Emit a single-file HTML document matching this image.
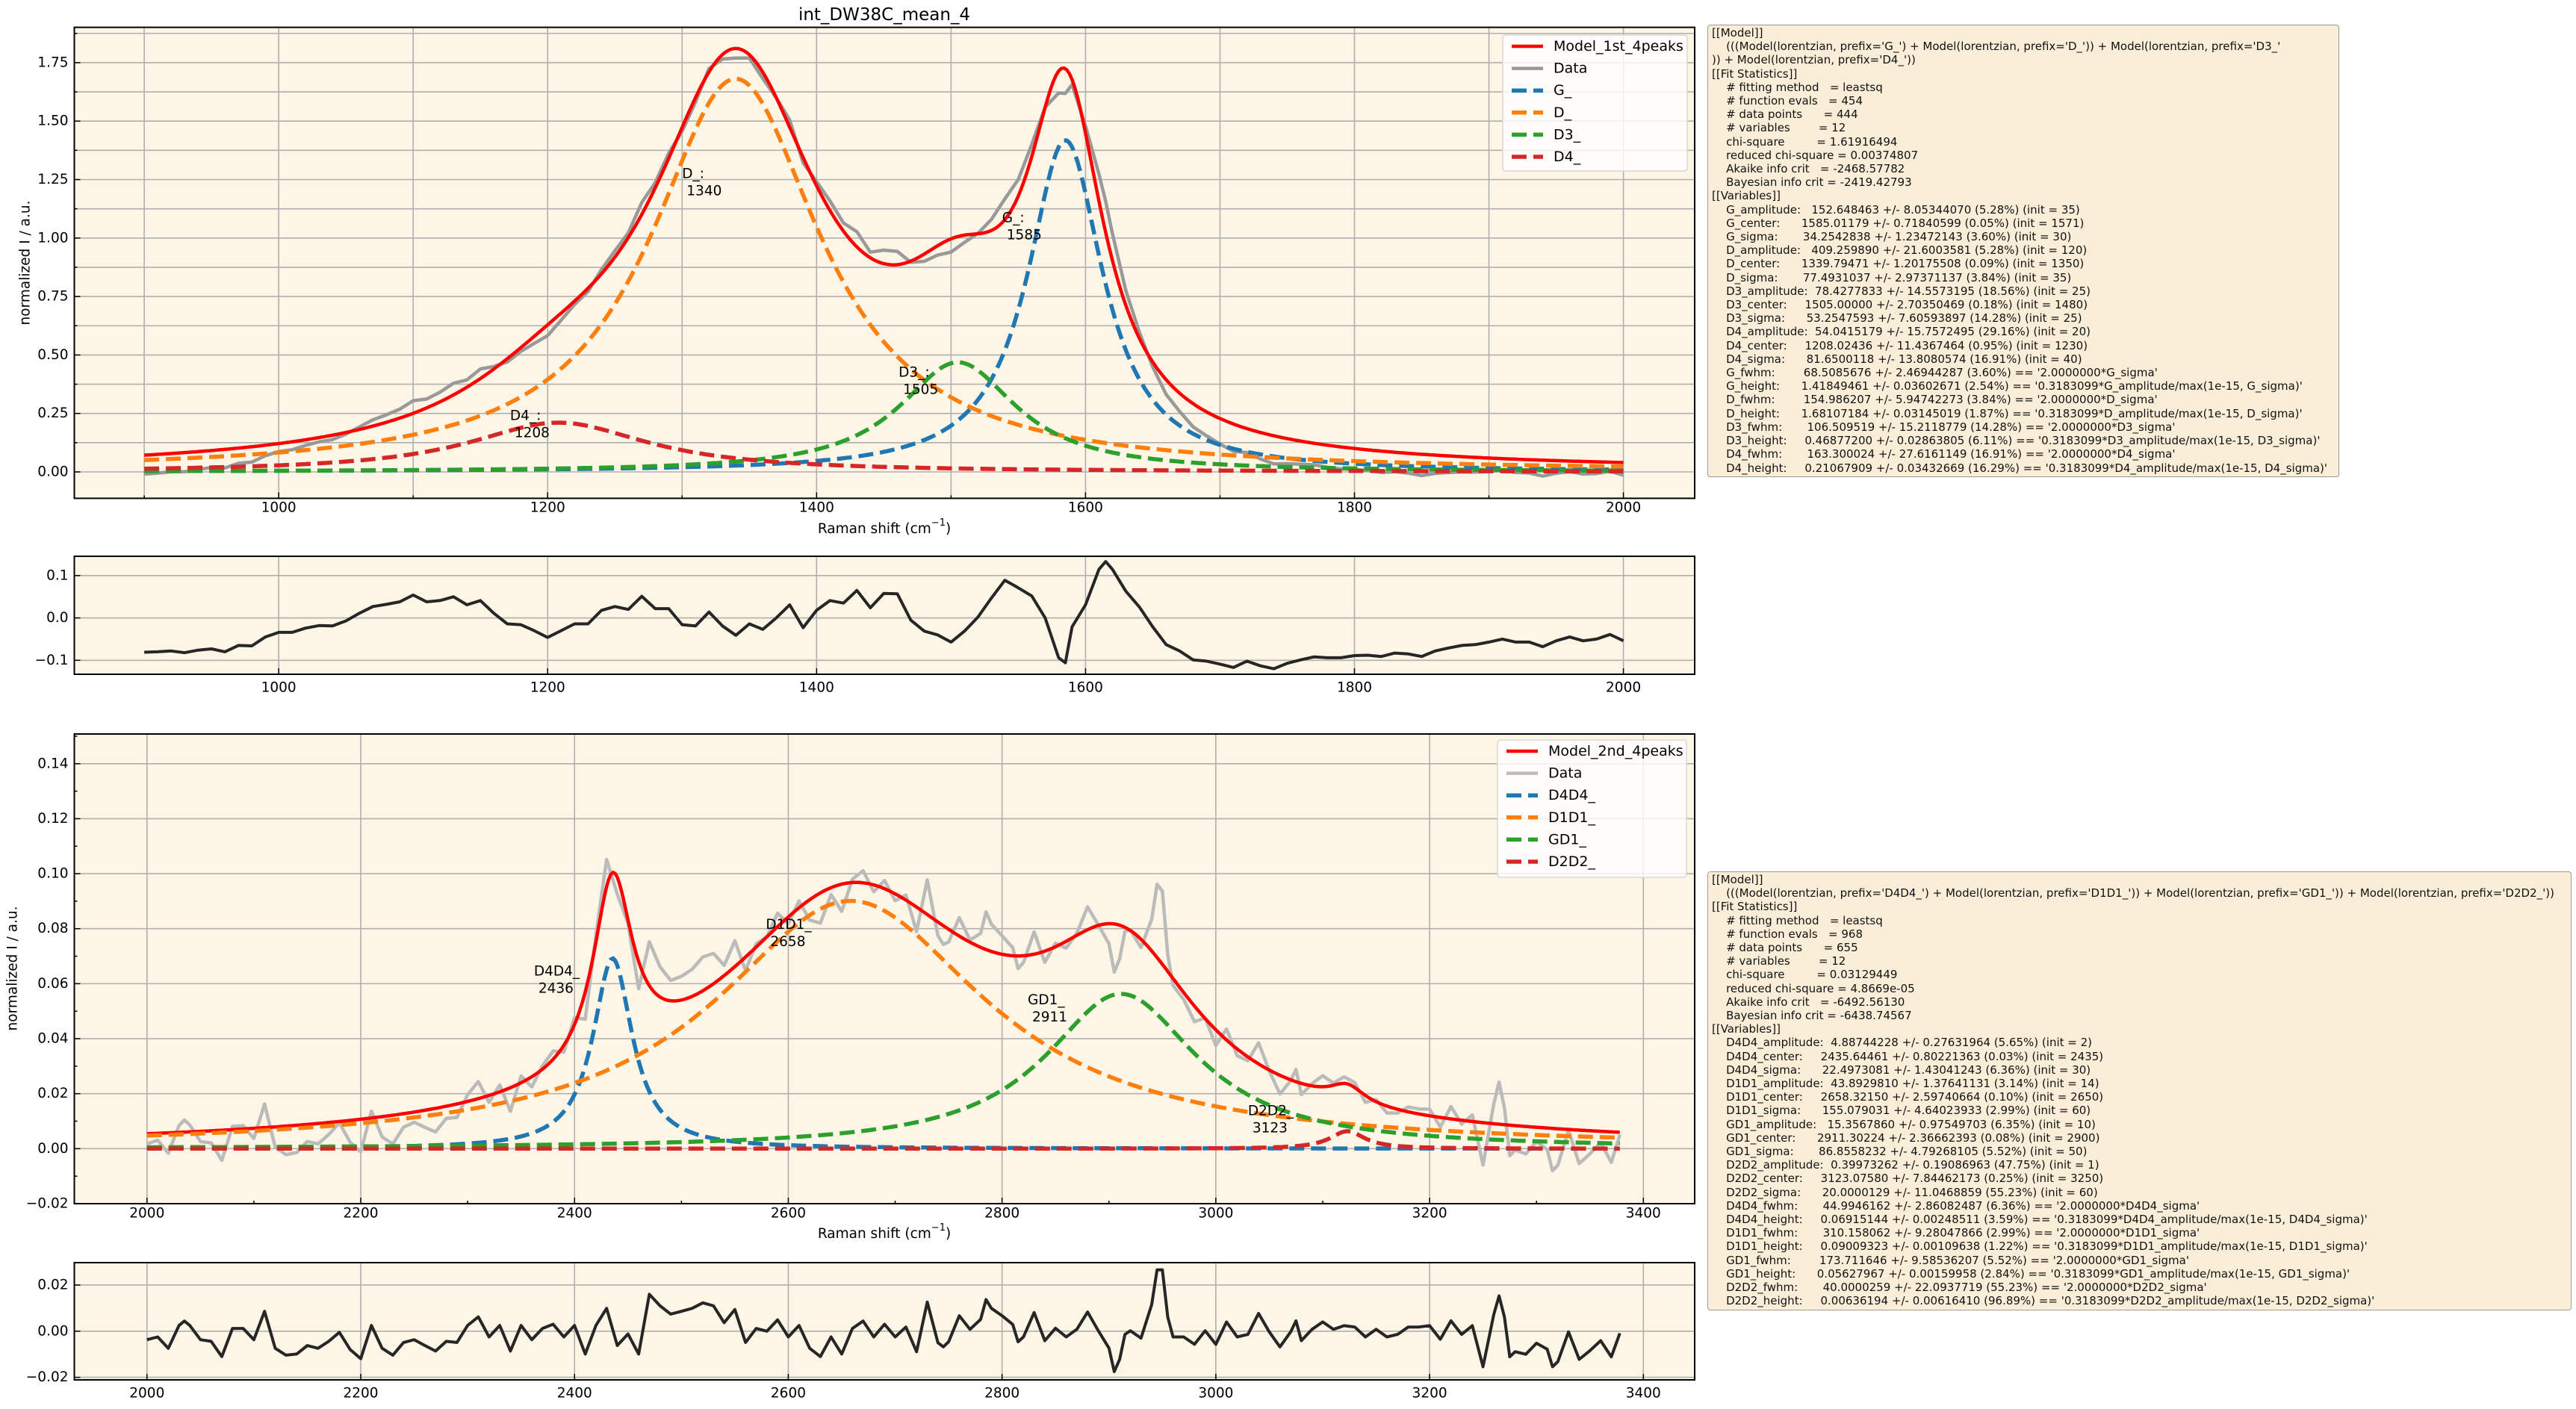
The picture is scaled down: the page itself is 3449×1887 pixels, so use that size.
<!DOCTYPE html>
<html><head><meta charset="utf-8">
<style>
html,body{margin:0;padding:0;background:#fff;}
body{width:3449px;height:1887px;position:relative;overflow:hidden;font-family:"DejaVu Sans","Liberation Sans",sans-serif;}
.box{position:absolute;background:#faeed9;border:1.5px solid #9a9a9a;border-radius:4px;box-sizing:border-box;}
.box pre{margin:0;padding:1px 5px;font-family:"DejaVu Sans","Liberation Sans",sans-serif;font-size:15px;line-height:18.2px;color:#111;white-space:pre;}
</style></head>
<body>
<svg id="chart" width="3449" height="1887" xmlns="http://www.w3.org/2000/svg" style="position:absolute;left:0;top:0;font-family:'DejaVu Sans','Liberation Sans',sans-serif;"></svg>

<div class="box" style="left:2286px;top:33px;width:846px;height:606px;"><pre>[[Model]]
    (((Model(lorentzian, prefix='G_') + Model(lorentzian, prefix='D_')) + Model(lorentzian, prefix='D3_'
)) + Model(lorentzian, prefix='D4_'))
[[Fit Statistics]]
    # fitting method   = leastsq
    # function evals   = 454
    # data points      = 444
    # variables        = 12
    chi-square         = 1.61916494
    reduced chi-square = 0.00374807
    Akaike info crit   = -2468.57782
    Bayesian info crit = -2419.42793
[[Variables]]
    G_amplitude:   152.648463 +/- 8.05344070 (5.28%) (init = 35)
    G_center:      1585.01179 +/- 0.71840599 (0.05%) (init = 1571)
    G_sigma:       34.2542838 +/- 1.23472143 (3.60%) (init = 30)
    D_amplitude:   409.259890 +/- 21.6003581 (5.28%) (init = 120)
    D_center:      1339.79471 +/- 1.20175508 (0.09%) (init = 1350)
    D_sigma:       77.4931037 +/- 2.97371137 (3.84%) (init = 35)
    D3_amplitude:  78.4277833 +/- 14.5573195 (18.56%) (init = 25)
    D3_center:     1505.00000 +/- 2.70350469 (0.18%) (init = 1480)
    D3_sigma:      53.2547593 +/- 7.60593897 (14.28%) (init = 25)
    D4_amplitude:  54.0415179 +/- 15.7572495 (29.16%) (init = 20)
    D4_center:     1208.02436 +/- 11.4367464 (0.95%) (init = 1230)
    D4_sigma:      81.6500118 +/- 13.8080574 (16.91%) (init = 40)
    G_fwhm:        68.5085676 +/- 2.46944287 (3.60%) == '2.0000000*G_sigma'
    G_height:      1.41849461 +/- 0.03602671 (2.54%) == '0.3183099*G_amplitude/max(1e-15, G_sigma)'
    D_fwhm:        154.986207 +/- 5.94742273 (3.84%) == '2.0000000*D_sigma'
    D_height:      1.68107184 +/- 0.03145019 (1.87%) == '0.3183099*D_amplitude/max(1e-15, D_sigma)'
    D3_fwhm:       106.509519 +/- 15.2118779 (14.28%) == '2.0000000*D3_sigma'
    D3_height:     0.46877200 +/- 0.02863805 (6.11%) == '0.3183099*D3_amplitude/max(1e-15, D3_sigma)'
    D4_fwhm:       163.300024 +/- 27.6161149 (16.91%) == '2.0000000*D4_sigma'
    D4_height:     0.21067909 +/- 0.03432669 (16.29%) == '0.3183099*D4_amplitude/max(1e-15, D4_sigma)'</pre></div>

<div class="box" style="left:2286px;top:1167px;width:1157px;height:588px;"><pre>[[Model]]
    (((Model(lorentzian, prefix='D4D4_') + Model(lorentzian, prefix='D1D1_')) + Model(lorentzian, prefix='GD1_')) + Model(lorentzian, prefix='D2D2_'))
[[Fit Statistics]]
    # fitting method   = leastsq
    # function evals   = 968
    # data points      = 655
    # variables        = 12
    chi-square         = 0.03129449
    reduced chi-square = 4.8669e-05
    Akaike info crit   = -6492.56130
    Bayesian info crit = -6438.74567
[[Variables]]
    D4D4_amplitude:  4.88744228 +/- 0.27631964 (5.65%) (init = 2)
    D4D4_center:     2435.64461 +/- 0.80221363 (0.03%) (init = 2435)
    D4D4_sigma:      22.4973081 +/- 1.43041243 (6.36%) (init = 30)
    D1D1_amplitude:  43.8929810 +/- 1.37641131 (3.14%) (init = 14)
    D1D1_center:     2658.32150 +/- 2.59740664 (0.10%) (init = 2650)
    D1D1_sigma:      155.079031 +/- 4.64023933 (2.99%) (init = 60)
    GD1_amplitude:   15.3567860 +/- 0.97549703 (6.35%) (init = 10)
    GD1_center:      2911.30224 +/- 2.36662393 (0.08%) (init = 2900)
    GD1_sigma:       86.8558232 +/- 4.79268105 (5.52%) (init = 50)
    D2D2_amplitude:  0.39973262 +/- 0.19086963 (47.75%) (init = 1)
    D2D2_center:     3123.07580 +/- 7.84462173 (0.25%) (init = 3250)
    D2D2_sigma:      20.0000129 +/- 11.0468859 (55.23%) (init = 60)
    D4D4_fwhm:       44.9946162 +/- 2.86082487 (6.36%) == '2.0000000*D4D4_sigma'
    D4D4_height:     0.06915144 +/- 0.00248511 (3.59%) == '0.3183099*D4D4_amplitude/max(1e-15, D4D4_sigma)'
    D1D1_fwhm:       310.158062 +/- 9.28047866 (2.99%) == '2.0000000*D1D1_sigma'
    D1D1_height:     0.09009323 +/- 0.00109638 (1.22%) == '0.3183099*D1D1_amplitude/max(1e-15, D1D1_sigma)'
    GD1_fwhm:        173.711646 +/- 9.58536207 (5.52%) == '2.0000000*GD1_sigma'
    GD1_height:      0.05627967 +/- 0.00159958 (2.84%) == '0.3183099*GD1_amplitude/max(1e-15, GD1_sigma)'
    D2D2_fwhm:       40.0000259 +/- 22.0937719 (55.23%) == '2.0000000*D2D2_sigma'
    D2D2_height:     0.00636194 +/- 0.00616410 (96.89%) == '0.3183099*D2D2_amplitude/max(1e-15, D2D2_sigma)'</pre></div>

<script>
// ---------- data: 1st order fit ----------
const p1Names = ['G_', 'D_', 'D3_', 'D4_'];
const p1Amps = [152.648463, 409.259890, 78.4277833, 54.0415179];
const p1Centers = [1585.01179, 1339.79471, 1505.0, 1208.02436];
const p1Sigmas = [34.2542838, 77.4931037, 53.2547593, 81.6500118];
const p1LabelX = [1538, 1300, 1461, 1172];
const p1LabelY = [1.085, 1.274, 0.425, 0.239];
const p1LabelVal = ['1585', '1340', '1505', '1208'];
const res1X = [900,910,920,930,940,950,960,970,980,990,1000,1010,1020,1030,1040,1050,1060,1070,1080,1090,1100,1110,1120,1130,1140,1150,1160,1170,1180,1190,1200,1210,1220,1230,1240,1250,1260,1270,1280,1290,1300,1310,1320,1330,1340,1350,1360,1370,1380,1390,1400,1410,1420,1430,1440,1450,1460,1470,1480,1490,1500,1510,1520,1530,1540,1550,1560,1570,1580,1585,1590,1600,1610,1615,1620,1630,1640,1650,1660,1670,1680,1690,1700,1710,1720,1730,1740,1750,1760,1770,1780,1790,1800,1810,1820,1830,1840,1850,1860,1870,1880,1890,1900,1910,1920,1930,1940,1950,1960,1970,1980,1990,2000];
const res1Y = [-0.081,-0.080,-0.078,-0.082,-0.076,-0.073,-0.080,-0.065,-0.066,-0.045,-0.034,-0.034,-0.024,-0.018,-0.019,-0.007,0.011,0.027,0.032,0.038,0.054,0.038,0.041,0.050,0.031,0.041,0.011,-0.014,-0.016,-0.030,-0.046,-0.030,-0.014,-0.014,0.018,0.027,0.020,0.051,0.022,0.022,-0.016,-0.019,0.014,-0.019,-0.041,-0.014,-0.027,0.0,0.031,-0.023,0.018,0.041,0.035,0.065,0.024,0.058,0.057,-0.005,-0.031,-0.040,-0.057,-0.031,0.002,0.047,0.089,0.071,0.052,0.0,-0.094,-0.106,-0.021,0.031,0.115,0.133,0.115,0.063,0.026,-0.021,-0.063,-0.078,-0.099,-0.102,-0.109,-0.117,-0.102,-0.113,-0.120,-0.107,-0.099,-0.092,-0.094,-0.094,-0.089,-0.088,-0.091,-0.083,-0.085,-0.091,-0.078,-0.071,-0.065,-0.063,-0.057,-0.050,-0.057,-0.057,-0.068,-0.054,-0.045,-0.054,-0.050,-0.039,-0.054];
const p1XTicks = [1000, 1200, 1400, 1600, 1800, 2000];
const p1YTicks = [0, 0.25, 0.5, 0.75, 1.0, 1.25, 1.5, 1.75];
const r1YTicks = [-0.1, 0.0, 0.1];

// ---------- data: 2nd order fit ----------
const p2Names = ['D4D4_', 'D1D1_', 'GD1_', 'D2D2_'];
const p2Amps = [4.88744228, 43.8929810, 15.3567860, 0.39973262];
const p2Centers = [2435.64461, 2658.32150, 2911.30224, 3123.07580];
const p2Sigmas = [22.4973081, 155.079031, 86.8558232, 20.0000129];
const p2LabelX = [2362, 2579, 2824, 3030];
const p2LabelY = [0.0644, 0.0814, 0.054, 0.0137];
const p2LabelVal = ['2436', '2658', '2911', '3123'];
const res2X = [2000,2010,2020,2030,2035,2040,2050,2060,2070,2080,2090,2100,2110,2120,2130,2140,2150,2160,2170,2180,2190,2200,2210,2220,2230,2240,2250,2260,2270,2280,2290,2300,2310,2320,2330,2340,2350,2360,2370,2380,2390,2400,2410,2420,2430,2440,2450,2460,2470,2480,2490,2500,2510,2520,2530,2540,2550,2560,2570,2580,2590,2600,2610,2620,2630,2640,2650,2660,2670,2680,2690,2700,2710,2720,2730,2740,2745,2750,2760,2770,2780,2785,2790,2800,2810,2815,2820,2830,2840,2850,2860,2870,2880,2890,2900,2905,2910,2915,2920,2930,2940,2945,2950,2955,2960,2970,2980,2990,3000,3010,3020,3030,3040,3050,3060,3070,3075,3080,3090,3100,3110,3120,3130,3140,3150,3160,3170,3180,3190,3200,3210,3220,3230,3240,3250,3260,3265,3270,3275,3280,3290,3300,3310,3315,3320,3330,3340,3350,3360,3370,3378];
const res2Y = [-0.0037,-0.0025,-0.0074,0.0025,0.0044,0.0025,-0.0037,-0.0044,-0.011,0.0012,0.0012,-0.0037,0.0086,-0.0074,-0.0104,-0.0099,-0.0062,-0.0074,-0.0044,-0.0005,-0.0079,-0.0119,0.0025,-0.0074,-0.0104,-0.0049,-0.0037,-0.0062,-0.0086,-0.0044,-0.0049,0.0025,0.0062,-0.0025,0.0025,-0.0086,0.0025,-0.0037,0.0012,0.003,-0.0025,0.0025,-0.0099,0.0025,0.0099,-0.0062,-0.0012,-0.0099,0.016,0.011,0.0074,0.0086,0.0099,0.0123,0.011,0.0037,0.0094,-0.0049,0.0012,0.0,0.0049,-0.0025,0.0025,-0.0074,-0.011,-0.0025,-0.0099,0.0012,0.0044,-0.0025,0.0030,-0.0025,0.0018,-0.0089,0.0126,-0.005,-0.0068,-0.0046,0.0067,0.0008,0.0051,0.0137,0.0099,0.0067,0.0029,-0.0046,-0.0025,0.0081,-0.0041,0.0013,-0.0025,0.0008,0.0083,0.0002,-0.0073,-0.0175,-0.0122,-0.0014,0.0002,-0.003,0.0115,0.0266,0.0266,0.0061,-0.0025,-0.0025,-0.0057,0.0002,-0.0057,0.004,-0.0025,-0.0014,0.0077,-0.0003,-0.0068,-0.0003,0.0045,-0.0041,0.0008,0.004,0.0008,0.0024,0.0018,-0.0025,0.0008,-0.0025,-0.0014,0.0018,0.0018,0.0024,-0.0035,0.0045,-0.0014,0.0024,-0.0154,0.0072,0.0153,0.0061,-0.0111,-0.0089,-0.01,-0.0052,-0.0078,-0.0154,-0.0132,-0.0003,-0.0122,-0.0084,-0.0041,-0.0111,-0.0009];
const p2XTicks = [2000, 2200, 2400, 2600, 2800, 3000, 3200, 3400];
const p2YTicks = [-0.02, 0, 0.02, 0.04, 0.06, 0.08, 0.10, 0.12, 0.14];
const r2YTicks = [-0.02, 0.0, 0.02];

const compColors = ['#1f77b4', '#ff7f0e', '#2ca02c', '#d62728'];
const NS = 'http://www.w3.org/2000/svg';
const svg = document.getElementById('chart');

function mk(tag, attrs, parent) {
  const e = document.createElementNS(NS, tag);
  for (const k in attrs) e.setAttribute(k, attrs[k]);
  (parent || svg).appendChild(e);
  return e;
}
function lor(x, a, c, s) { return a / Math.PI * s / ((x - c) * (x - c) + s * s); }
function fmtMinus(s) { return s.replace('-', '\u2212'); }

function makeAxis(L, R, T, B, x0, x1, y0, y1) {
  return {L, R, T, B,
    sx: v => L + (v - x0) / (x1 - x0) * (R - L),
    sy: v => B - (v - y0) / (y1 - y0) * (B - T)};
}

function drawFrame(ax, name, xGrid, yGrid, xTicks, yTicks, xFmt, yFmt, xLabY, xMinor, yMinor) {
  const g = mk('g', {});
  
  
  mk('rect', {x: ax.L, y: ax.T, width: ax.R - ax.L, height: ax.B - ax.T, fill: '#fdf5e6'}, g);
  const grid = mk('g', {stroke: '#b0b0b0', 'stroke-width': 1.6}, g);
  
  
  xGrid.forEach(v => { const x = ax.sx(v); mk('line', {x1: x, x2: x, y1: ax.T, y2: ax.B}, grid); });
  yGrid.forEach(v => { const y = ax.sy(v); mk('line', {x1: ax.L, x2: ax.R, y1: y, y2: y}, grid); });
  const tk = mk('g', {stroke: '#000', 'stroke-width': 1.5}, g);
  xTicks.forEach(v => { const x = ax.sx(v); mk('line', {x1: x, x2: x, y1: ax.B, y2: ax.B - 8}, tk); });
  yTicks.forEach(v => { const y = ax.sy(v); mk('line', {x1: ax.L, x2: ax.L + 8, y1: y, y2: y}, tk); });
  (xMinor || []).forEach(v => { const x = ax.sx(v); mk('line', {x1: x, x2: x, y1: ax.B, y2: ax.B - 4}, tk); });
  (yMinor || []).forEach(v => { const y = ax.sy(v); mk('line', {x1: ax.L, x2: ax.L + 4, y1: y, y2: y}, tk); });
  const xl = mk('g', {'font-size': '18.5px', fill: '#000', 'text-anchor': 'middle'}, g);
  
  
  xTicks.forEach(v => { const t = mk('text', {x: ax.sx(v), y: xLabY, 'dominant-baseline': 'central'}, xl); t.textContent = xFmt(v); });
  const yl = mk('g', {'font-size': '18.5px', fill: '#000', 'text-anchor': 'end'}, g);
  
  
  yTicks.forEach(v => { const t = mk('text', {x: ax.L - 8, y: ax.sy(v), 'dominant-baseline': 'central'}, yl); t.textContent = fmtMinus(yFmt(v)); });
  return g;
}
function spines(ax) {
  mk('rect', {x: ax.L, y: ax.T, width: ax.R - ax.L, height: ax.B - ax.T, fill: 'none', stroke: '#000', 'stroke-width': 2});
}
function pathD(ax, xs, ys) {
  return xs.map((x, i) => (i ? 'L' : 'M') + ax.sx(x).toFixed(1) + ',' + ax.sy(ys[i]).toFixed(1)).join('');
}
function clipFor(ax, id) {
  const cp = mk('clipPath', {id: id});
  mk('rect', {x: ax.L, y: ax.T, width: ax.R - ax.L, height: ax.B - ax.T}, cp);
  return 'url(#' + id + ')';
}
function range(a, b, s) { const r = []; for (let v = a; v <= b + 1e-9; v += s) r.push(+v.toFixed(6)); return r; }

function drawFit(ax, name, names, amps, centers, sigmas, resX, resY, xStart, xEnd, dataColor, modelName, labX, labY, labVal, legendBox) {
  const clip = clipFor(ax, name + '-clip');
  const layer = mk('g', {'clip-path': clip});
  const xs = range(xStart, xEnd, 2);
  const model = xs.map(x => names.reduce((s, n, i) => s + lor(x, amps[i], centers[i], sigmas[i]), 0));
  const dataY = resX.map((x, k) => names.reduce((s, n, i) => s + lor(x, amps[i], centers[i], sigmas[i]), 0) + resY[k]);
  const dp = mk('path', {d: pathD(ax, resX, dataY), fill: 'none', stroke: dataColor, 'stroke-width': 4.5, 'stroke-linejoin': 'round'}, layer);
  
  
  const mp = mk('path', {d: pathD(ax, xs, model), fill: 'none', stroke: '#ff0000', 'stroke-width': 4.5}, layer);
  
  
  names.forEach((n, i) => {
    const ys = xs.map(x => lor(x, amps[i], centers[i], sigmas[i]));
    const p = mk('path', {d: pathD(ax, xs, ys), fill: 'none', stroke: compColors[i], 'stroke-width': 5.5, 'stroke-dasharray': '20 9'}, layer);
    
    
  });
  names.forEach((n, i) => {
    const g = mk('g', {'font-size': '18.5px', fill: '#000'});
    
    
    const x = ax.sx(labX[i]), y = ax.sy(labY[i]);
    const t1 = mk('text', {x: x, y: y, 'dominant-baseline': 'central'}, g);
    t1.textContent = n + (name === 'panel1' ? ':' : '');
    const t2 = mk('text', {x: x + 6, y: y + 23, 'dominant-baseline': 'central'}, g);
    t2.textContent = labVal[i];
  });
  // legend
  const lg = mk('g', {});
  
  
  mk('rect', {x: legendBox.x, y: legendBox.y, width: legendBox.w, height: legendBox.h, rx: 4, fill: '#ffffff', 'fill-opacity': 0.8, stroke: '#d8d8d8', 'stroke-width': 1.5}, lg);
  const entries = [[modelName, '#ff0000', false], ['Data', dataColor, false]].concat(names.map((n, i) => [n, compColors[i], true]));
  entries.forEach((e, k) => {
    const y = legendBox.y + 15 + k * 29.6;
    const eg = mk('g', {}, lg);
    
    
    mk('line', {x1: legendBox.x + 12, x2: legendBox.x + 54, y1: y, y2: y, stroke: e[1], 'stroke-width': e[2] ? 5.5 : 4.5, 'stroke-dasharray': e[2] ? '20 9' : 'none'}, eg);
    const t = mk('text', {x: legendBox.x + 68, y: y, 'font-size': '19px', 'dominant-baseline': 'central'}, eg);
    t.textContent = e[0];
  });
}
function drawResid(ax, name, xs, ys) {
  const clip = clipFor(ax, name + '-clip');
  const p = mk('path', {d: pathD(ax, xs, ys), fill: 'none', stroke: '#262626', 'stroke-width': 4, 'stroke-linejoin': 'round', 'clip-path': clip});
  
  
}
function textAt(x, y, str, size, name, rot) {
  const t = mk('text', {x: x, y: y, 'font-size': size, 'text-anchor': 'middle', 'dominant-baseline': 'central', fill: '#000'});
  if (rot) t.setAttribute('transform', 'rotate(-90 ' + x + ' ' + y + ')');
  t.textContent = str;
  
  
  return t;
}
function xLabel(x, y, name) {
  const t = mk('text', {x: x, y: y, 'font-size': '18.5px', 'text-anchor': 'middle', 'dominant-baseline': 'central', fill: '#000'});
  
  
  const a = mk('tspan', {}, t); a.textContent = 'Raman shift (cm';
  const b = mk('tspan', {'font-size': '13px', dy: -8}, t); b.textContent = '\u22121';
  const c = mk('tspan', {dy: 8}, t); c.textContent = ')';
}

// ---------- panel 1 ----------
const ax1 = makeAxis(99.5, 2269, 36.6, 667.4, 848, 2053, -0.113, 1.901);
drawFrame(ax1, 'panel1', range(900, 2000, 100), range(0, 1.875, 0.125), p1XTicks, p1YTicks, v => String(v), v => v.toFixed(2), 680, [900,1100,1300,1500,1700,1900], [0.125,0.375,0.625,0.875,1.125,1.375,1.625,1.875]);
drawFit(ax1, 'panel1', p1Names, p1Amps, p1Centers, p1Sigmas, res1X, res1Y, 900, 2000, '#999999', 'Model_1st_4peaks', p1LabelX, p1LabelY, p1LabelVal, {x: 2012, y: 47, w: 247, h: 182});
spines(ax1);
textAt(1184, 20, 'int_DW38C_mean_4', '23px', 'chart-title');
textAt(34, 352, 'normalized I / a.u.', '18.5px', 'panel1-y-axis-title', true);
xLabel(1184, 708, 'panel1-x-axis-title');

// ---------- residual 1 ----------
const axr1 = makeAxis(99.5, 2269, 745, 903, 848, 2053, -0.133, 0.1456);
drawFrame(axr1, 'residual1', [1000,1200,1400,1600,1800,2000], r1YTicks, p1XTicks, r1YTicks, v => String(v), v => v.toFixed(1), 921);
drawResid(axr1, 'residual1', res1X, res1Y);
spines(axr1);

// ---------- panel 2 ----------
const ax2 = makeAxis(99.5, 2269, 983, 1612, 1932, 3448, -0.02, 0.1508);
drawFrame(ax2, 'panel2', p2XTicks, p2YTicks, p2XTicks, p2YTicks, v => String(v), v => v.toFixed(2), 1625, range(2100, 3300, 200), range(-0.01, 0.15, 0.02));
drawFit(ax2, 'panel2', p2Names, p2Amps, p2Centers, p2Sigmas, res2X, res2Y, 2000, 3378, '#bbbbbb', 'Model_2nd_4peaks', p2LabelX, p2LabelY, p2LabelVal, {x: 2005, y: 991, w: 253, h: 184});
spines(ax2);
textAt(17, 1297, 'normalized I / a.u.', '18.5px', 'panel2-y-axis-title', true);
xLabel(1184, 1652, 'panel2-x-axis-title');

// ---------- residual 2 ----------
const axr2 = makeAxis(99.5, 2269, 1691, 1848, 1932, 3448, -0.0211, 0.0297);
drawFrame(axr2, 'residual2', p2XTicks, r2YTicks, p2XTicks, r2YTicks, v => String(v), v => v.toFixed(2), 1866);
drawResid(axr2, 'residual2', res2X, res2Y);
spines(axr2);
</script>
</body></html>
